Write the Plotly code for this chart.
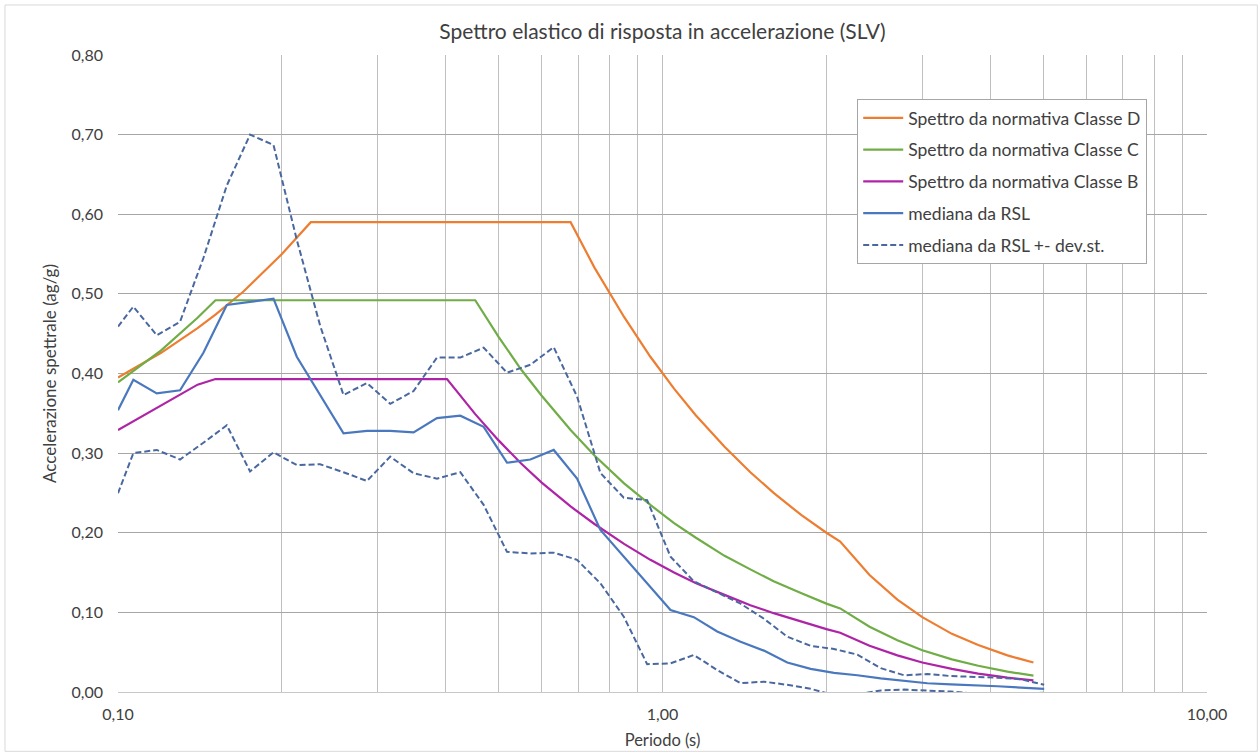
import plotly.graph_objects as go

# ---------------- data ----------------
# Periods of the design spectra (s)
T_spec = [0.10, 0.12, 0.14, 0.151, 0.17, 0.20, 0.226, 0.30, 0.402, 0.453, 0.50, 0.55,
          0.60, 0.678, 0.75, 0.85, 0.95, 1.05, 1.15, 1.30, 1.45, 1.60, 1.80, 2.00,
          2.12, 2.40, 2.70, 3.00, 3.40, 3.80, 4.30, 4.80]

classe_D = [0.395, 0.426, 0.457, 0.474, 0.503, 0.550, 0.590, 0.590, 0.590, 0.590, 0.590, 0.590,
            0.590, 0.590, 0.533, 0.471, 0.421, 0.381, 0.348, 0.308, 0.276, 0.250, 0.222, 0.200,
            0.189, 0.147, 0.116, 0.094, 0.073, 0.059, 0.046, 0.037]

classe_C = [0.389, 0.429, 0.470, 0.492, 0.492, 0.492, 0.492, 0.492, 0.492, 0.492, 0.446, 0.405,
            0.372, 0.329, 0.297, 0.262, 0.235, 0.212, 0.194, 0.171, 0.154, 0.139, 0.124, 0.111,
            0.105, 0.082, 0.065, 0.0525, 0.041, 0.033, 0.0256, 0.0205]

classe_B = [0.329, 0.360, 0.386, 0.393, 0.393, 0.393, 0.393, 0.393, 0.393, 0.349, 0.316, 0.287,
            0.263, 0.233, 0.211, 0.186, 0.166, 0.150, 0.137, 0.122, 0.109, 0.099, 0.088, 0.079,
            0.0745, 0.058, 0.046, 0.037, 0.029, 0.023, 0.018, 0.0145]

# Periods of the site response analysis (RSL) results (s)
T_rsl = [0.1000, 0.1067, 0.1178, 0.1300, 0.1435, 0.1584, 0.1748, 0.1930, 0.2130, 0.2351,
         0.2595, 0.2865, 0.3162, 0.3490, 0.3853, 0.4253, 0.4694, 0.5181, 0.5719, 0.6313,
         0.6968, 0.7691, 0.8490, 0.9371, 1.0344, 1.1418, 1.2603, 1.3911, 1.5355, 1.6949,
         1.8709, 2.0651, 2.2795, 2.5161, 2.7773, 3.0656, 3.3838, 3.7350, 4.1227, 4.5507,
         5.0230]

mediana = [0.354, 0.392, 0.375, 0.379, 0.426, 0.486, 0.490, 0.494, 0.421, 0.373,
           0.325, 0.328, 0.328, 0.326, 0.344, 0.347, 0.333, 0.288, 0.292, 0.304,
           0.268, 0.2035, 0.170, 0.1365, 0.103, 0.094, 0.076, 0.063, 0.052, 0.037,
           0.029, 0.024, 0.021, 0.017, 0.014, 0.011, 0.0095, 0.0085, 0.0072, 0.0055,
           0.0038]

mediana_piu = [0.459, 0.484, 0.448, 0.465, 0.545, 0.636, 0.700, 0.687, 0.568, 0.460,
               0.373, 0.388, 0.362, 0.378, 0.420, 0.420, 0.4325, 0.401, 0.411, 0.433,
               0.371, 0.275, 0.244, 0.241, 0.170, 0.139, 0.125, 0.111, 0.092, 0.0695,
               0.058, 0.054, 0.047, 0.030, 0.021, 0.0226, 0.020, 0.019, 0.018, 0.016,
               0.009]

mediana_meno = [0.2496, 0.300, 0.304, 0.292, 0.313, 0.335, 0.277, 0.301, 0.285, 0.286,
                0.276, 0.265, 0.2956, 0.2747, 0.268, 0.276, 0.235, 0.176, 0.174, 0.175,
                0.166, 0.1365, 0.0946, 0.035, 0.036, 0.0465, 0.0276, 0.011, 0.013, 0.009,
                0.004, -0.004, -0.003, 0.002, 0.003, 0.002, 0.0005, -0.002, -0.003, -0.002,
                -0.001]

x_tickvals = [0.1, 0.2, 0.3, 0.4, 0.5, 0.6, 0.7, 0.8, 0.9,
              1, 2, 3, 4, 5, 6, 7, 8, 9, 10]
x_ticktext = ["0,10", "", "", "", "", "", "", "", "",
              "1,00", "", "", "", "", "", "", "", "", "10,00"]

# ---------------- styles ----------------
FONT = "Lato, Carlito, 'Noto Sans', sans-serif"
C_D = "#ED7D31"
C_C = "#70AD47"
C_B = "#AE24A6"
C_MED = "#4A78BE"
C_DEV = "#4A68A0"

fig = go.Figure()

fig.add_trace(go.Scatter(x=T_spec, y=classe_D, mode="lines", name="Spettro da normativa Classe D",
                         line=dict(color=C_D, width=2.2), legendgroup="a"))
fig.add_trace(go.Scatter(x=T_spec, y=classe_C, mode="lines", name="Spettro da normativa Classe C",
                         line=dict(color=C_C, width=2.2), legendgroup="b"))
fig.add_trace(go.Scatter(x=T_spec, y=classe_B, mode="lines", name="Spettro da normativa Classe B",
                         line=dict(color=C_B, width=2.2), legendgroup="c"))
fig.add_trace(go.Scatter(x=T_rsl, y=mediana, mode="lines", name="mediana da RSL",
                         line=dict(color=C_MED, width=2.2), legendgroup="d"))
fig.add_trace(go.Scatter(x=T_rsl, y=mediana_piu, mode="lines", name="mediana da RSL +- dev.st.",
                         line=dict(color=C_DEV, width=2, dash="6px,3px"), legendgroup="e"))
fig.add_trace(go.Scatter(x=T_rsl, y=mediana_meno, mode="lines", name="mediana da RSL +- dev.st.",
                         line=dict(color=C_DEV, width=2, dash="6px,3px"), legendgroup="e",
                         showlegend=False))

fig.update_layout(
    width=1260, height=753,
    margin=dict(l=118, r=53, t=55, b=61, autoexpand=False),
    paper_bgcolor="white", plot_bgcolor="white",
    separators=",.",
    font=dict(family=FONT, size=16, color="#404040"),
    title=dict(text="Spettro elastico di risposta in accelerazione (SLV)",
               x=0.5, xanchor="center", xref="paper", y=1 - 32 / 753, yanchor="middle",
               font=dict(family=FONT, size=21, color="#404040")),
    showlegend=True,
    legend=dict(x=(857 - 118) / 1088.7, y=(691.7 - 99) / 636.7, xanchor="left", yanchor="top",
                bgcolor="white", bordercolor="#A6A6A6", borderwidth=1,
                font=dict(family=FONT, size=17.5, color="#404040"),
                tracegroupgap=6, itemwidth=40),
    xaxis=dict(type="log", range=[-1, 1], tickmode="array", tickvals=x_tickvals,
               ticktext=x_ticktext, showgrid=True, gridcolor="#BFBFBF", gridwidth=1,
               showline=True, linecolor="#C8C8C8", linewidth=1, zeroline=False,
               ticks="", ticklabelstandoff=8, automargin=False,
               title=dict(text="Periodo (s)", font=dict(family=FONT, size=16.5, color="#404040"),
                          standoff=12)),
    yaxis=dict(range=[0, 0.8], dtick=0.1, tick0=0, tickformat=".2f", showgrid=True,
               gridcolor="#A6A6A6", gridwidth=1.3, zeroline=False, showline=False,
               ticks="", ticklabelstandoff=14, automargin=False,
               title=dict(text="Accelerazione spettrale (ag/g)",
                          font=dict(family=FONT, size=17, color="#404040"), standoff=10)),
    shapes=[dict(type="rect", xref="paper", yref="paper",
                 x0=(5 - 118) / 1088.7, x1=(1257 - 118) / 1088.7,
                 y0=(691.7 - 751) / 636.7, y1=(691.7 - 5) / 636.7,
                 line=dict(color="#D9D9D9", width=1), fillcolor="rgba(0,0,0,0)", layer="below")],
)

fig.write_html("out.html")
